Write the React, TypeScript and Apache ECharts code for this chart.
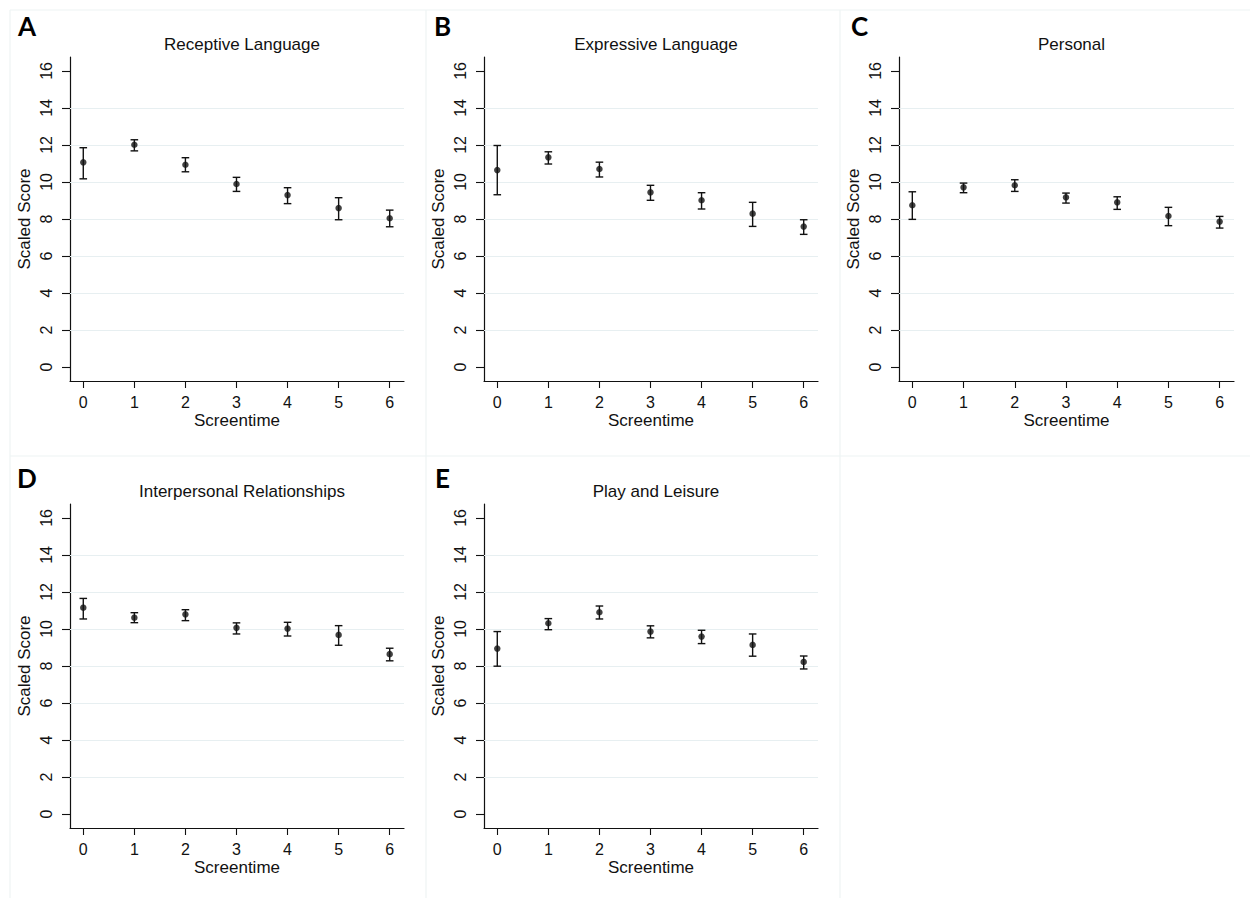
import React, { useEffect, useRef } from "react";
import * as echarts from "echarts";

const screentime = [0, 1, 2, 3, 4, 5, 6];
const yTickValues = [0, 2, 4, 6, 8, 10, 12, 14, 16];
const gridLineValues = [2, 4, 6, 8, 10, 12, 14];

const panelLetters = ["A", "B", "C", "D", "E"];
const panelTitles = [
  "Receptive Language",
  "Expressive Language",
  "Personal",
  "Interpersonal Relationships",
  "Play and Leisure",
];

const receptiveMean = [11.06, 12.01, 10.93, 9.89, 9.29, 8.59, 8.04];
const receptiveLow = [10.17, 11.68, 10.55, 9.49, 8.83, 7.96, 7.58];
const receptiveHigh = [11.85, 12.28, 11.31, 10.25, 9.69, 9.15, 8.48];

const expressiveMean = [10.64, 11.33, 10.7, 9.44, 9.01, 8.29, 7.59];
const expressiveLow = [9.31, 10.97, 10.27, 9.01, 8.54, 7.6, 7.17];
const expressiveHigh = [11.97, 11.63, 11.07, 9.82, 9.42, 8.9, 7.96];

const personalMean = [8.74, 9.71, 9.82, 9.17, 8.9, 8.16, 7.86];
const personalLow = [7.98, 9.42, 9.49, 8.86, 8.52, 7.64, 7.51];
const personalHigh = [9.47, 9.94, 10.12, 9.4, 9.2, 8.63, 8.14];

const interpersonalMean = [11.15, 10.61, 10.79, 10.06, 10.02, 9.68, 8.64];
const interpersonalLow = [10.54, 10.34, 10.45, 9.73, 9.62, 9.12, 8.28];
const interpersonalHigh = [11.65, 10.88, 11.04, 10.33, 10.36, 10.18, 8.96];

const playMean = [8.94, 10.31, 10.9, 9.86, 9.59, 9.14, 8.22];
const playLow = [7.99, 9.96, 10.54, 9.52, 9.21, 8.53, 7.84];
const playHigh = [9.86, 10.56, 11.24, 10.17, 9.93, 9.73, 8.54];

const means = [receptiveMean, expressiveMean, personalMean, interpersonalMean, playMean];
const lows = [receptiveLow, expressiveLow, personalLow, interpersonalLow, playLow];
const highs = [receptiveHigh, expressiveHigh, personalHigh, interpersonalHigh, playHigh];

// layout (pixels)
const gridBoxes = [
  { left: 70, top: 57, width: 334, height: 324 },
  { left: 484, top: 57, width: 334, height: 324 },
  { left: 899, top: 57, width: 335, height: 324 },
  { left: 70, top: 504, width: 334, height: 324 },
  { left: 484, top: 504, width: 334, height: 324 },
];
const letterPos = [
  [18, 13],
  [434, 13],
  [851, 13],
  [17, 465],
  [435, 465],
];

const FONT = "'Liberation Sans', Arial, Helvetica, sans-serif";
const INK = "#111";
const GRIDLINE = "#e7eff1";
const BORDER = "#eef3f3";

export default function App() {
  const ref = useRef<HTMLDivElement>(null);

  useEffect(() => {
    if (!ref.current) return;
    const chart = echarts.init(ref.current, undefined, { renderer: "svg" });

    const grids = gridBoxes.map((g) => ({ ...g, containLabel: false }));
    const xAxes = gridBoxes.map((_, i) => ({
      type: "value",
      gridIndex: i,
      min: -0.26,
      max: 6.28,
      name: "Screentime",
      nameLocation: "middle",
      nameGap: 31,
      nameTextStyle: { fontFamily: FONT, fontSize: 17, color: INK },
      axisLine: { show: true, onZero: false, lineStyle: { color: INK, width: 1.2 } },
      axisTick: { show: true, length: 7, customValues: screentime, lineStyle: { color: INK, width: 1.1 } },
      axisLabel: { customValues: screentime, fontFamily: FONT, fontSize: 16, color: INK, margin: 13 },
      splitLine: { show: false },
    }));
    const yAxes = gridBoxes.map((_, i) => ({
      type: "value",
      gridIndex: i,
      min: -0.75,
      max: 16.75,
      name: "Scaled Score",
      nameLocation: "middle",
      nameGap: 37,
      nameTextStyle: { fontFamily: FONT, fontSize: 17, color: INK },
      axisLine: { show: true, onZero: false, lineStyle: { color: INK, width: 1.2 } },
      axisTick: { show: true, length: 8, customValues: yTickValues, lineStyle: { color: INK, width: 1.1 } },
      axisLabel: {
        customValues: yTickValues,
        rotate: 90,
        fontFamily: FONT,
        fontSize: 16,
        color: INK,
        margin: 16,
      },
      splitLine: { show: false },
    }));

    const series: any[] = [];
    means.forEach((m, i) => {
      series.push({
        type: "custom",
        xAxisIndex: i,
        yAxisIndex: i,
        silent: true,
        encode: { x: 0, y: [1, 2] },
        data: screentime.map((x, j) => [x, lows[i][j], highs[i][j]]),
        renderItem: (params: any, api: any) => {
          const x = api.value(0);
          const pLo = api.coord([x, api.value(1)]);
          const pHi = api.coord([x, api.value(2)]);
          const hw = 3.8;
          const style = { stroke: INK, lineWidth: 1.4 };
          return {
            type: "group",
            children: [
              { type: "line", shape: { x1: pLo[0], y1: pLo[1], x2: pHi[0], y2: pHi[1] }, style },
              { type: "line", shape: { x1: pLo[0] - hw, y1: pLo[1], x2: pLo[0] + hw, y2: pLo[1] }, style },
              { type: "line", shape: { x1: pHi[0] - hw, y1: pHi[1], x2: pHi[0] + hw, y2: pHi[1] }, style },
            ],
          };
        },
        z: 3,
      });
      series.push({
        type: "scatter",
        xAxisIndex: i,
        yAxisIndex: i,
        symbol: "circle",
        symbolSize: 6.5,
        itemStyle: { color: INK },
        data: screentime.map((x, j) => [x, m[j]]),
        z: 4,
        markLine: {
          silent: true,
          symbol: "none",
          label: { show: false },
          lineStyle: { color: GRIDLINE, width: 1.2, type: "solid" },
          data: gridLineValues.map((v) => ({ yAxis: v })),
          z: 1,
        },
      });
    });

    const titles = gridBoxes.map((g, i) => ({
      text: panelTitles[i],
      left: g.left + g.width / 2,
      top: g.top - 26,
      textAlign: "center",
      textStyle: { fontFamily: FONT, fontSize: 17, fontWeight: "normal", color: INK },
    }));

    const borderLines = [
      { x1: 10, y1: 10, x2: 1250, y2: 10 },
      { x1: 10, y1: 456, x2: 1250, y2: 456 },
      { x1: 10, y1: 10, x2: 10, y2: 898 },
      { x1: 426, y1: 10, x2: 426, y2: 898 },
      { x1: 840, y1: 10, x2: 840, y2: 898 },
    ];

    const graphic: any[] = [
      ...borderLines.map((s) => ({
        type: "line",
        shape: s,
        style: { stroke: BORDER, lineWidth: 1.2 },
        silent: true,
        z: -10,
      })),
      ...panelLetters.map((t, i) => ({
        type: "text",
        left: letterPos[i][0],
        top: letterPos[i][1],
        style: {
          text: t,
          font: "bold 26px Lato, 'Open Sans', sans-serif",
          fill: "#000",
        },
      })),
    ];

    chart.setOption({
      animation: false,
      backgroundColor: "#ffffff",
      title: titles,
      grid: grids,
      xAxis: xAxes,
      yAxis: yAxes,
      series,
      graphic,
    });

    return () => chart.dispose();
  }, []);

  return (
    <div
      ref={ref}
      style={{ position: "absolute", left: 0, top: 0, width: 1250, height: 898 }}
    />
  );
}
